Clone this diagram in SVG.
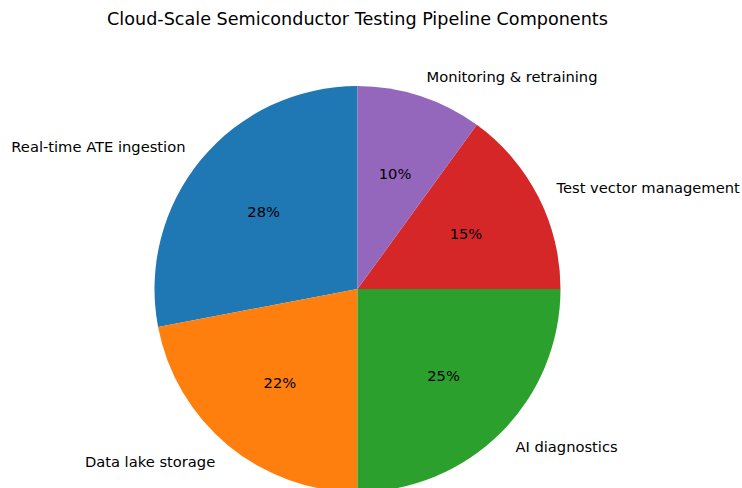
<svg xmlns="http://www.w3.org/2000/svg" width="742" height="488" viewBox="0 0 742 488">
<style>
text{font-family:"DejaVu Sans",sans-serif;fill:#000}
.lbl{font-size:14.7px;dominant-baseline:central}
.pct{font-size:14.7px;dominant-baseline:central;text-anchor:middle}
.title{font-size:17.6px;text-anchor:middle;dominant-baseline:central}
</style>
<rect width="742" height="488" fill="#fff"/>
<text class="title" x="357.5" y="19">Cloud-Scale Semiconductor Testing Pipeline Components</text>
<g id="ate">
<path d="M357.5,289 L357.5,86 A203,203 0 0 0 158.1,327 Z" fill="#1f77b4"/>
<text class="lbl" x="185.5" y="146.7" text-anchor="end">Real-time ATE ingestion</text>
<text class="pct" x="263.7" y="211.4">28%</text>
</g>
<g id="datalake">
<path d="M357.5,289 L158.1,327 A203,203 0 0 0 357.5,492 Z" fill="#ff7f0e"/>
<text class="lbl" x="215.2" y="461" text-anchor="end">Data lake storage</text>
<text class="pct" x="279.9" y="382.8">22%</text>
</g>
<g id="ai">
<path d="M357.5,289 L357.5,492 A203,203 0 0 0 560.5,289 Z" fill="#2ca02c"/>
<text class="lbl" x="515.4" y="446.9" text-anchor="start">AI diagnostics</text>
<text class="pct" x="443.6" y="375.1">25%</text>
</g>
<g id="testvector">
<path d="M357.5,289 L560.5,289 A203,203 0 0 0 476.8,124.8 Z" fill="#d62728"/>
<text class="lbl" x="556.5" y="187.6" text-anchor="start">Test vector management</text>
<text class="pct" x="466" y="233.7">15%</text>
</g>
<g id="monitoring">
<path d="M357.5,289 L476.8,124.8 A203,203 0 0 0 357.5,86 Z" fill="#9467bd"/>
<text class="lbl" x="426.5" y="76.6" text-anchor="start">Monitoring &amp; retraining</text>
<text class="pct" x="395.1" y="173.2">10%</text>
</g>
<g id="connectors"/>
</svg>
